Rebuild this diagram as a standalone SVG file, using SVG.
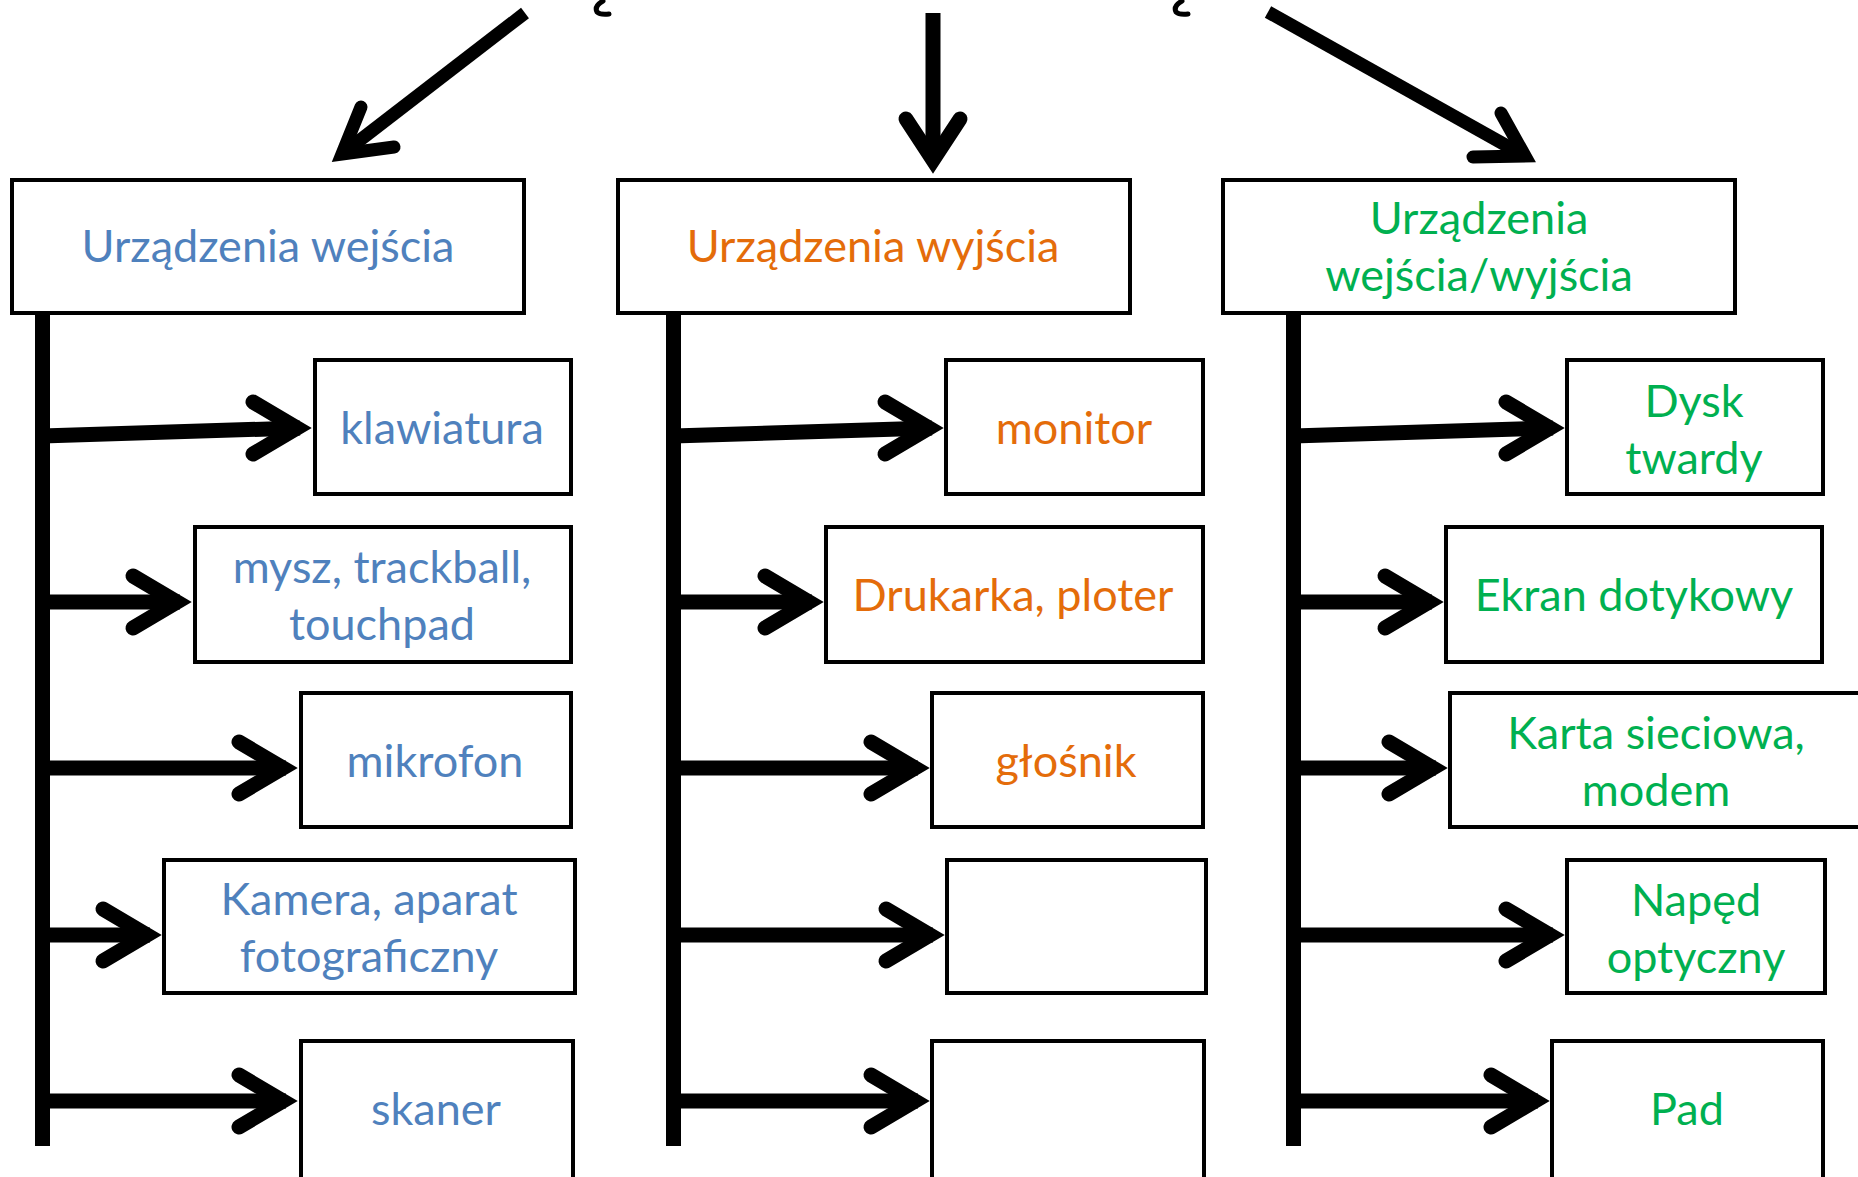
<svg xmlns="http://www.w3.org/2000/svg" width="1858" height="1177" viewBox="0 0 1858 1177">
<style>
.box{fill:#fff;stroke:#000;stroke-width:4}
.t{font-family:Lato,"Open Sans","Liberation Sans",sans-serif;font-size:45px;text-anchor:middle}
.blue{fill:#4F81BD}.orange{fill:#E46C0A}.green{fill:#00B050}
.ln{fill:none;stroke:#000;stroke-width:15}
.hd{fill:none;stroke:#000;stroke-width:15;stroke-linecap:round;stroke-linejoin:miter;stroke-miterlimit:6}
.tk{fill:#000}
.hook{fill:none;stroke:#000;stroke-width:5;stroke-linecap:round}
</style>
<rect width="1858" height="1177" fill="#fff"/>
<path class="hook" d="M603,1 Q594,6 597,12 Q600,15 609,14"/>
<path class="hook" d="M1182,1 Q1173,6 1176,12 Q1179,15 1188,14"/>
<g id="connectors">
  <path class="ln" d="M525,13 L342,154" style="stroke-width:13"/>
  <path class="hd" d="M361,107 L342,154 L394,147" style="stroke-width:13"/>
  <path class="ln" d="M933,13 L933,160"/>
  <path class="hd" d="M906,119 L933,160 L960,119"/>
  <path class="ln" d="M1268,12 L1525,156" style="stroke-width:13"/>
  <path class="hd" d="M1501,113 L1525,156 L1473,157" style="stroke-width:13"/>
  <rect class="tk" x="35" y="313" width="15" height="833"/>
  <rect class="tk" x="666" y="313" width="15" height="833"/>
  <rect class="tk" x="1286" y="313" width="15" height="833"/>
  <g id="c1">
    <path class="ln" d="M42,436 L300,428"/><path class="hd" d="M253,402 L297,428 L253,454"/>
    <path class="ln" d="M42,602 L180,602"/><path class="hd" d="M133,576 L177,602 L133,628"/>
    <path class="ln" d="M42,768 L286,768"/><path class="hd" d="M239,742 L283,768 L239,794"/>
    <path class="ln" d="M42,935 L150,935"/><path class="hd" d="M103,909 L147,935 L103,961"/>
    <path class="ln" d="M42,1101 L286,1101"/><path class="hd" d="M239,1075 L283,1101 L239,1127"/>
  </g>
  <g id="c2">
    <path class="ln" d="M673,436 L932,428"/><path class="hd" d="M885,402 L929,428 L885,454"/>
    <path class="ln" d="M673,602 L812,602"/><path class="hd" d="M765,576 L809,602 L765,628"/>
    <path class="ln" d="M673,768 L918,768"/><path class="hd" d="M871,742 L915,768 L871,794"/>
    <path class="ln" d="M673,935 L933,935"/><path class="hd" d="M886,909 L930,935 L886,961"/>
    <path class="ln" d="M673,1101 L918,1101"/><path class="hd" d="M871,1075 L915,1101 L871,1127"/>
  </g>
  <g id="c3">
    <path class="ln" d="M1293,436 L1553,428"/><path class="hd" d="M1506,402 L1550,428 L1506,454"/>
    <path class="ln" d="M1293,602 L1432,602"/><path class="hd" d="M1385,576 L1429,602 L1385,628"/>
    <path class="ln" d="M1293,768 L1436,768"/><path class="hd" d="M1389,742 L1433,768 L1389,794"/>
    <path class="ln" d="M1293,935 L1553,935"/><path class="hd" d="M1506,909 L1550,935 L1506,961"/>
    <path class="ln" d="M1293,1101 L1538,1101"/><path class="hd" d="M1491,1075 L1535,1101 L1491,1127"/>
  </g>
</g>
<g id="in"><rect class="box" x="12" y="180" width="512" height="133"/><text class="t blue" x="268" y="262">Urządzenia wejścia</text></g>
<g id="out"><rect class="box" x="618" y="180" width="512" height="133"/><text class="t orange" x="873" y="262">Urządzenia wyjścia</text></g>
<g id="io"><rect class="box" x="1223" y="180" width="512" height="133"/><text class="t green" x="1479" y="234">Urządzenia</text><text class="t green" x="1479" y="291">wejścia/wyjścia</text></g>

<g id="klawiatura"><rect class="box" x="315" y="360" width="256" height="134"/><text class="t blue" x="442" y="444">klawiatura</text></g>
<g id="mysz"><rect class="box" x="195" y="527" width="376" height="135"/><text class="t blue" x="382" y="583">mysz, trackball,</text><text class="t blue" x="382" y="640">touchpad</text></g>
<g id="mikrofon"><rect class="box" x="301" y="693" width="270" height="134"/><text class="t blue" x="435" y="777">mikrofon</text></g>
<g id="kamera"><rect class="box" x="164" y="860" width="411" height="133"/><text class="t blue" x="369" y="915">Kamera, aparat</text><text class="t blue" x="369" y="972">fotograficzny</text></g>
<g id="skaner"><rect class="box" x="301" y="1041" width="272" height="141"/><text class="t blue" x="436" y="1125">skaner</text></g>

<g id="monitor"><rect class="box" x="946" y="360" width="257" height="134"/><text class="t orange" x="1074" y="444">monitor</text></g>
<g id="drukarka"><rect class="box" x="826" y="527" width="377" height="135"/><text class="t orange" x="1013" y="611">Drukarka, ploter</text></g>
<g id="glosnik"><rect class="box" x="932" y="693" width="271" height="134"/><text class="t orange" x="1066" y="777">głośnik</text></g>
<g id="empty1"><rect class="box" x="947" y="860" width="259" height="133"/></g>
<g id="empty2"><rect class="box" x="932" y="1041" width="272" height="141"/></g>

<g id="dysk"><rect class="box" x="1567" y="360" width="256" height="134"/><text class="t green" x="1694" y="417">Dysk</text><text class="t green" x="1694" y="474">twardy</text></g>
<g id="ekran"><rect class="box" x="1446" y="527" width="376" height="135"/><text class="t green" x="1634" y="611">Ekran dotykowy</text></g>
<g id="karta"><rect class="box" x="1450" y="693" width="420" height="134"/><text class="t green" x="1656" y="749">Karta sieciowa,</text><text class="t green" x="1656" y="806">modem</text></g>
<g id="naped"><rect class="box" x="1567" y="860" width="258" height="133"/><text class="t green" x="1696" y="916">Napęd</text><text class="t green" x="1696" y="973">optyczny</text></g>
<g id="pad"><rect class="box" x="1552" y="1041" width="271" height="141"/><text class="t green" x="1687" y="1125">Pad</text></g>
</svg>
